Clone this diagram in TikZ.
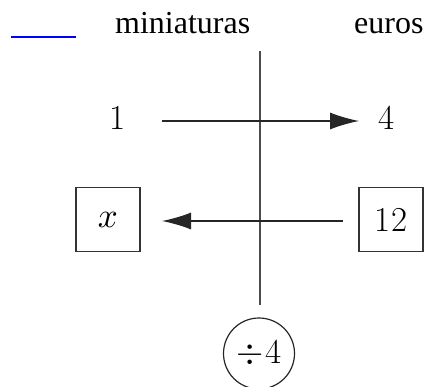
\documentclass[tikz,border=0pt]{standalone}
\usepackage{graphicx}
\usepackage{fontspec}
\newfontfamily\hdr{Liberation Serif}
\usetikzlibrary{arrows.meta}
\newcommand{\bigmath}[1]{\scalebox{3.5}{\fontsize{10}{12}\selectfont$#1$}}
\begin{document}
\begin{tikzpicture}[x=1pt,y=-1pt,
  hdrtext/.style={font=\hdr\fontsize{32}{36}\selectfont, anchor=base west, inner sep=0pt},
  num/.style={font=\fontsize{35}{40}\selectfont, inner sep=0pt},
  arr/.style={draw=black!85, line width=1.2pt, -{Latex[length=29pt,width=17pt]}},
  sqbox/.style={draw=black!80, line width=1.2pt, minimum width=64pt, minimum height=64pt, inner sep=0pt, font=\fontsize{35}{40}\selectfont},
  opcircle/.style={circle, draw=black!85, line width=1.2pt, minimum size=71pt, inner sep=0pt, font=\fontsize{35}{40}\selectfont},
  axis/.style={draw=black!70, line width=1.2pt}]
\useasboundingbox (0,0) rectangle (425,387);
% header
\coordinate (bl1) at (11,37.5);
\coordinate (bl2) at (76,37.5);
\draw[blue, line width=2pt] (bl1) -- (bl2);
\node[hdrtext] (mini) at (115,34) {miniaturas};
\node[hdrtext] (eur) at (354,34) {euros};
% vertical axis
\coordinate (vtop) at (260,51);
\coordinate (vbot) at (260,305);
\draw[axis] (vtop) -- (vbot);
% top row
\node[num] (n1) at (118,118) {1};
\node[num] (n4) at (387,118) {4};
\coordinate (a1s) at (162,121);
\coordinate (a1e) at (359,121);
\draw[arr] (a1s) -- (a1e);
% bottom row
\node[sqbox] (bx) at (108,219.5) {\bigmath{x}};
\node[sqbox] (b12) at (391,219.5) {12};
\coordinate (a2s) at (343,221);
\coordinate (a2e) at (162,221);
\draw[arr] (a2s) -- (a2e);
% circle
\node[opcircle] (op) at (259,353.5) {\bigmath{\div}\kern2pt4};
\end{tikzpicture}
\end{document}
